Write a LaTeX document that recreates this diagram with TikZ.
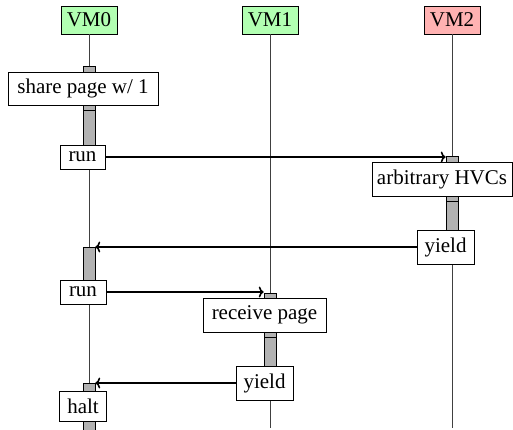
\documentclass[tikz,border=0pt]{standalone}
\usepackage{fontspec}
\setmainfont{Liberation Serif}
\usetikzlibrary{arrows.meta}
\begin{document}
\begin{tikzpicture}[x=1pt,y=-1pt,
  every node/.style={font=\fontsize{21}{25}\selectfont},
  lbox/.style={draw=black,line width=0.7pt,fill=white,inner sep=0pt},
  head/.style={lbox,minimum width=56pt,minimum height=28pt},
  bar/.style={draw=black,line width=0.6pt,fill=black!30,inner sep=0pt,minimum width=12pt,anchor=north},
  life/.style={line width=0.7pt,black!75},
  msg/.style={line width=1.6pt,-{To[length=5pt,width=11pt]}}]
\useasboundingbox (0,0) rectangle (513,430);
% headers
\node[head,fill=green!30] (vm0) at (89,20) {VM0};
\node[head,fill=green!30] (vm1) at (270,20) {VM1};
\node[head,fill=red!30] (vm2) at (452,20) {VM2};
% lifelines
\coordinate (e0) at (89,428);
\coordinate (e1) at (270,428);
\coordinate (e2) at (452,428);
\draw[life] (vm0.south) -- (e0);
\draw[life] (vm1.south) -- (e1);
\draw[life] (vm2.south) -- (e2);
% activation bars
\node[bar,minimum height=44pt] (b0a) at (89,66) {};
\node[bar,minimum height=40pt] (b0b) at (89,110) {};
\node[bar,minimum height=45pt] (b2a) at (452,156) {};
\node[bar,minimum height=34pt] (b2b) at (452,201) {};
\node[bar,minimum height=38pt] (b0c) at (89,247) {};
\node[bar,minimum height=44pt] (b1a) at (270,293) {};
\node[bar,minimum height=33pt] (b1b) at (270,337) {};
\node[bar,minimum height=47pt] (b0d) at (89,383) {};
% action boxes
\node[lbox,minimum width=150pt,minimum height=33pt] (share) at (83,88.5) {share page w/ 1};
\node[lbox,minimum width=45pt,minimum height=24pt] (run1) at (82.5,157) {run};
\node[lbox,minimum width=140pt,minimum height=34pt] (hvc) at (442,179) {arbitrary HVCs};
\node[lbox,minimum width=57pt,minimum height=34pt] (yield2) at (445.5,247) {yield};
\node[lbox,minimum width=46pt,minimum height=24pt] (run2) at (83,292) {run};
\node[lbox,minimum width=123pt,minimum height=34pt] (recv) at (264.5,315) {receive page};
\node[lbox,minimum width=57pt,minimum height=34pt] (yield1) at (264.5,383) {yield};
\node[lbox,minimum width=47pt,minimum height=30pt] (halt) at (83,406) {halt};
% messages
\draw[msg] (run1.east) -- (run1.east -| b2a.west);
\draw[msg] (yield2.west) -- (yield2.west -| b0c.east);
\draw[msg] (run2.east) -- (run2.east -| b1a.west);
\draw[msg] (yield1.west) -- (yield1.west -| b0d.east);
\end{tikzpicture}
\end{document}
